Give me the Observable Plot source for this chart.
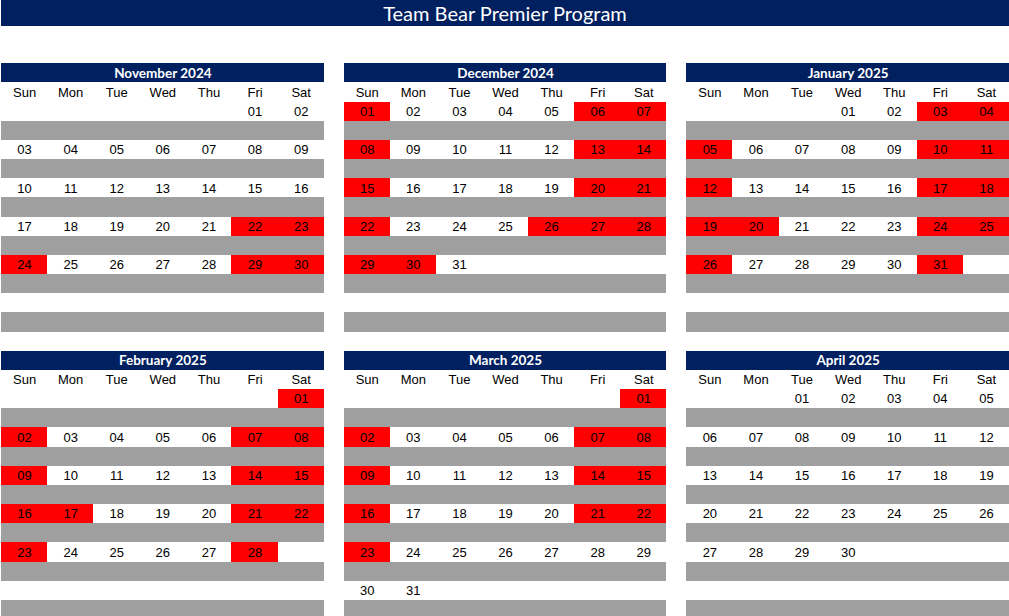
<!DOCTYPE html>
<html>
<head>
<meta charset="utf-8">
<script src="https://cdn.jsdelivr.net/npm/d3@7"></script>
<script src="https://cdn.jsdelivr.net/npm/@observablehq/plot@0.6"></script>
<style>
  html, body { margin: 0; padding: 0; background: white; overflow: hidden; }
  #title { margin-left: 1px; height: 26px; line-height: 26px; background: #002060; color: white;
           font-family: Lato, "Open Sans", sans-serif; font-size: 20px; text-align: center; }
  #chart svg { display: block; }
  #chart svg g.cal-text text { font-family: "Liberation Sans", Arial, sans-serif; }
  #chart svg g.hdr-text text { font-family: Lato, "Open Sans", sans-serif; font-weight: bold; }
</style>
</head>
<body>
<div id="title">Team Bear Premier Program</div>
<div id="chart"></div>
<script>
const titleText = "Team Bear Premier Program";
const months = ["November 2024", "December 2024", "January 2025", "February 2025", "March 2025", "April 2025"];
const firstWeekday = [5, 0, 3, 6, 6, 2];
const daysInMonth = [30, 31, 31, 28, 31, 30];
const weekdays = ["Sun", "Mon", "Tue", "Wed", "Thu", "Fri", "Sat"];
const redDays = [
  [22, 23, 24, 29, 30],
  [1, 6, 7, 8, 13, 14, 15, 20, 21, 22, 26, 27, 28, 29, 30],
  [3, 4, 5, 10, 11, 12, 17, 18, 19, 20, 24, 25, 26, 31],
  [1, 2, 7, 8, 9, 14, 15, 16, 17, 21, 22, 23, 28],
  [1, 2, 7, 8, 9, 14, 15, 16, 21, 22, 23],
  []
];

const NAVY = "#002060", RED = "#ff0000", GRAY = "#9f9f9f";

const headers = [], wdays = [], days = [], grays = [];
months.forEach((m, i) => {
  const col = i % 3, row = Math.floor(i / 3);
  headers.push({col, row, name: m});
  weekdays.forEach((w, d) => wdays.push({col, row, name: w, dow: d}));
  for (let wk = 0; wk < 6; wk++) grays.push({col, row, week: wk});
  for (let day = 1; day <= daysInMonth[i]; day++) {
    const idx = firstWeekday[i] + day - 1;
    days.push({col, row, day, label: String(day).padStart(2, "0"),
               dow: idx % 7, week: Math.floor(idx / 7), red: redDays[i].includes(day)});
  }
});

const chart = Plot.plot({
  width: 1009,
  height: 593,
  marginLeft: 1, marginRight: 0, marginTop: 37.3, marginBottom: 0,
  style: {background: "white", fontFamily: "'Liberation Sans', Arial, sans-serif"},
  fx: {domain: [0, 1, 2], paddingInner: 20 / 343, paddingOuter: 0, axis: null, round: false},
  fy: {domain: [0, 1], paddingInner: 1 / 15, paddingOuter: 0, axis: null, round: false},
  x: {type: "linear", domain: [0, 7], axis: null},
  y: {type: "linear", domain: [0, 14], reverse: true, axis: null},
  marks: [
    Plot.rect(headers, {fx: "col", fy: "row", x1: () => 0, x2: () => 7, y1: () => 0, y2: () => 1,
      fill: NAVY, shapeRendering: "crispEdges"}),
    Plot.rect(grays, {fx: "col", fy: "row", x1: () => 0, x2: () => 7,
      y1: d => 3 + 2 * d.week, y2: d => 4 + 2 * d.week, fill: GRAY, shapeRendering: "crispEdges"}),
    Plot.rect(days.filter(d => d.red), {fx: "col", fy: "row", x1: "dow", x2: d => d.dow + 1,
      y1: d => 2 + 2 * d.week, y2: d => 3 + 2 * d.week, fill: RED, shapeRendering: "crispEdges"}),
    Plot.text(headers, {fx: "col", fy: "row", x: () => 3.5, y: () => 0.5, text: "name",
      fill: "white", fontWeight: "bold", fontSize: 13.5, fontFamily: "Lato, 'Open Sans', sans-serif",
      className: "hdr-text"}),
    Plot.text(wdays, {fx: "col", fy: "row", x: d => d.dow + 0.5, y: () => 1.5, text: "name",
      fill: "black", fontSize: 13, fontFamily: "'Liberation Sans', Arial, sans-serif", className: "cal-text"}),
    Plot.text(days, {fx: "col", fy: "row", x: d => d.dow + 0.5, y: d => 2.5 + 2 * d.week, text: "label",
      fill: "black", fontSize: 13, fontFamily: "'Liberation Sans', Arial, sans-serif", className: "cal-text"})
  ]
});
document.getElementById("chart").appendChild(chart);
</script>
</body>
</html>
